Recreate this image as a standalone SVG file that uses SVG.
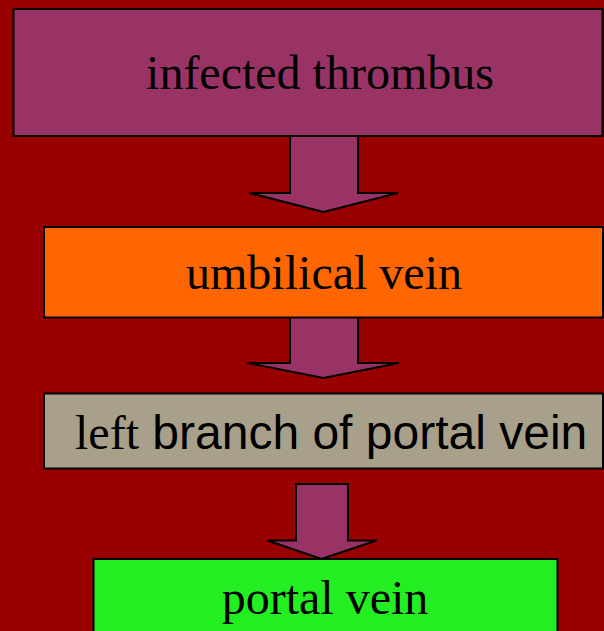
<svg xmlns="http://www.w3.org/2000/svg" width="604" height="631" viewBox="0 0 604 631">
<style>
.box{stroke:#000;stroke-width:2}
.arrow{fill:#993366;stroke:#000;stroke-width:2;stroke-linejoin:miter}
.t{font-family:"Liberation Serif","Times New Roman",serif;font-size:48px;fill:#000}
.s{font-family:"Liberation Sans",Arial,sans-serif}
</style>
<rect x="0" y="0" width="604" height="631" fill="#990000"/>
<g id="connectors">
<polygon class="arrow" points="290,136 358,136 358,193 398,193 323.5,212 249.5,193 290,193"/>
<polygon class="arrow" points="290,317 358,317 358,363 399,363 323.5,378 247.5,363 290,363"/>
<polygon class="arrow" points="296,484 348,484 348,540.5 376.5,540.5 321.5,559 267.5,540.5 296,540.5"/>
</g>
<g id="n1">
<rect class="box" x="13.5" y="9" width="589" height="127" fill="#993366"/>
<text class="t" x="320" y="89" text-anchor="middle">infected thrombus</text>
</g>
<g id="n2">
<rect class="box" x="44" y="227" width="559" height="90.5" fill="#FF6600"/>
<text class="t" x="324" y="289" text-anchor="middle">umbilical vein</text>
</g>
<g id="n3">
<rect class="box" x="44" y="393.5" width="559" height="75" fill="#A8A08A"/>
<text class="t" x="75" y="449">left<tspan class="s"> branch of portal vein</tspan></text>
</g>
<g id="n4">
<rect class="box" x="93.5" y="559" width="464" height="80" fill="#22EE22"/>
<text class="t" x="325" y="614" text-anchor="middle">portal vein</text>
</g>
</svg>
